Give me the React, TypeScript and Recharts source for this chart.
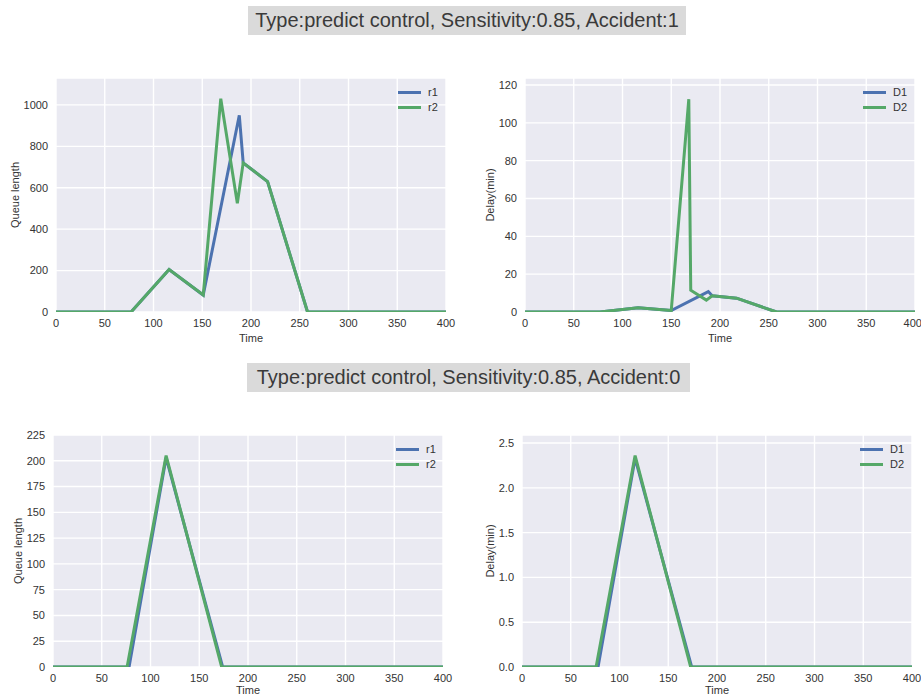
import { LineChart, Line, XAxis, YAxis, CartesianGrid, Legend, Label } from 'recharts'

const BLUE = '#4C72B0'
const GREEN = '#55A868'
const FONT = '"Liberation Sans", Arial, sans-serif'

const timeTicks = [0, 50, 100, 150, 200, 250, 300, 350, 400]

// Accident:1 — queue length
const r1TimesA1 = [0, 77, 116, 151, 188, 192, 217, 258, 400]
const r1ValuesA1 = [0, 0, 205, 82, 950, 720, 630, 0, 0]
const r2TimesA1 = [0, 77, 116, 151, 169, 186, 192, 217, 258, 400]
const r2ValuesA1 = [0, 0, 205, 82, 1030, 525, 720, 630, 0, 0]

// Accident:1 — delay
const d1TimesA1 = [0, 77, 116, 150, 188, 192, 217, 258, 400]
const d1ValuesA1 = [0, 0, 2.3, 0.8, 10.8, 8.6, 7.3, 0, 0]
const d2TimesA1 = [0, 77, 116, 150, 168, 170, 186, 192, 217, 258, 400]
const d2ValuesA1 = [0, 0, 2.3, 0.8, 112.5, 11.5, 6.3, 8.6, 7.3, 0, 0]

// Accident:0 — queue length
const r1TimesA0 = [0, 78, 116, 174, 400]
const r1ValuesA0 = [0, 0, 203, 0, 0]
const r2TimesA0 = [0, 76, 116, 173, 400]
const r2ValuesA0 = [0, 0, 205, 0, 0]

// Accident:0 — delay
const d1TimesA0 = [0, 78, 116, 174, 400]
const d1ValuesA0 = [0, 0, 2.33, 0, 0]
const d2TimesA0 = [0, 76, 116, 173, 400]
const d2ValuesA0 = [0, 0, 2.36, 0, 0]

const queueTicksA1 = [0, 200, 400, 600, 800, 1000]
const delayTicksA1 = [0, 20, 40, 60, 80, 100, 120]
const queueTicksA0 = [0, 25, 50, 75, 100, 125, 150, 175, 200, 225]
const delayTicksA0 = [0, 0.5, 1.0, 1.5, 2.0, 2.5]

const zip = (ts: number[], vs: number[]) => ts.map((t, i) => ({ t, v: vs[i] }))

type Series = { name: string; color: string; data: { t: number; v: number }[] }

type PanelProps = {
  left: number
  top: number
  width: number
  height: number
  yWidth: number
  right: number
  marginTop: number
  xHeight: number
  yDomain: [number, number]
  yTicks: number[]
  yLabel: string
  yLabelOffset: number
  timeOffset: number
  legendLeft: number
  legendTop: number
  fmt?: (v: number) => string
  series: Series[]
}

const renderLegend = (props: any) => (
  <div style={{ fontSize: 11, color: '#333', lineHeight: '15px', fontFamily: FONT }}>
    {(props.payload || []).map((p: any) => (
      <div key={p.value} style={{ display: 'flex', alignItems: 'center' }}>
        <svg width={23} height={15}>
          <line x1={0} x2={23} y1={7.5} y2={7.5} stroke={p.color} strokeWidth={3} />
        </svg>
        <span style={{ marginLeft: 7 }}>{p.value}</span>
      </div>
    ))}
  </div>
)

function Panel(p: PanelProps) {
  const tickStyle = { fontSize: 11, fill: '#333', fontFamily: FONT }
  return (
    <div style={{ position: 'absolute', left: p.left, top: p.top }}>
      <LineChart
        width={p.width}
        height={p.height}
        margin={{ top: p.marginTop, right: p.right, left: 0, bottom: 0 }}
      >
        <CartesianGrid fill="#EAEAF2" fillOpacity={1} stroke="#ffffff" strokeWidth={1.4} />
        <XAxis
          type="number"
          dataKey="t"
          domain={[0, 400]}
          ticks={timeTicks}
          allowDataOverflow
          axisLine={false}
          tickLine={false}
          tickMargin={1}
          height={p.xHeight}
          tick={tickStyle}
        >
          <Label value="Time" position="insideBottom" offset={p.timeOffset} style={tickStyle} />
        </XAxis>
        <YAxis
          type="number"
          dataKey="v"
          domain={p.yDomain}
          ticks={p.yTicks}
          allowDataOverflow
          axisLine={false}
          tickLine={false}
          width={p.yWidth}
          tick={tickStyle}
          tickFormatter={p.fmt}
        >
          <Label
            value={p.yLabel}
            angle={-90}
            position="insideLeft"
            offset={p.yLabelOffset}
            style={{ ...tickStyle, textAnchor: 'middle' }}
          />
        </YAxis>
        <Legend
          layout="vertical"
          align="center"
          verticalAlign="middle"
          content={renderLegend}
          wrapperStyle={{ left: p.legendLeft, top: p.legendTop, width: 60, height: 30 }}
        />
        {p.series.map((s) => (
          <Line
            key={s.name}
            data={s.data}
            dataKey="v"
            name={s.name}
            type="linear"
            stroke={s.color}
            strokeWidth={3}
            dot={false}
            activeDot={false}
            isAnimationActive={false}
          />
        ))}
      </LineChart>
    </div>
  )
}

const titleStyle = {
  position: 'absolute' as const,
  height: 29,
  lineHeight: '29px',
  background: '#dadada',
  color: '#3a3a3a',
  fontSize: 20,
  textAlign: 'center' as const,
  fontFamily: FONT,
}

export default function App() {
  return (
    <div
      style={{
        position: 'absolute',
        left: 0,
        top: 0,
        width: 921,
        height: 697,
        background: '#ffffff',
        overflow: 'hidden',
        fontFamily: FONT,
      }}
    >
      <div style={{ ...titleStyle, left: 248, top: 6, width: 438 }}>
        Type:predict control, Sensitivity:0.85, Accident:1
      </div>
      <div style={{ ...titleStyle, left: 247, top: 363, width: 443 }}>
        Type:predict control, Sensitivity:0.85, Accident:0
      </div>

      <Panel
        left={0}
        top={60}
        width={460}
        height={290}
        yWidth={56}
        right={14}
        marginTop={18}
        xHeight={38}
        yDomain={[0, 1130]}
        yTicks={queueTicksA1}
        yLabel="Queue length"
        yLabelOffset={15}
        timeOffset={8}
        legendLeft={398}
        legendTop={25}
        series={[
          { name: 'r1', color: BLUE, data: zip(r1TimesA1, r1ValuesA1) },
          { name: 'r2', color: GREEN, data: zip(r2TimesA1, r2ValuesA1) },
        ]}
      />
      <Panel
        left={460}
        top={60}
        width={461}
        height={290}
        yWidth={65}
        right={6}
        marginTop={18}
        xHeight={38}
        yDomain={[0, 123.7]}
        yTicks={delayTicksA1}
        yLabel="Delay(min)"
        yLabelOffset={30}
        timeOffset={8}
        legendLeft={403}
        legendTop={25}
        series={[
          { name: 'D1', color: BLUE, data: zip(d1TimesA1, d1ValuesA1) },
          { name: 'D2', color: GREEN, data: zip(d2TimesA1, d2ValuesA1) },
        ]}
      />
      <Panel
        left={0}
        top={420}
        width={460}
        height={277}
        yWidth={53}
        right={17}
        marginTop={15}
        xHeight={30}
        yDomain={[0, 225]}
        yTicks={queueTicksA0}
        yLabel="Queue length"
        yLabelOffset={18}
        timeOffset={3}
        legendLeft={396}
        legendTop={22}
        series={[
          { name: 'r1', color: BLUE, data: zip(r1TimesA0, r1ValuesA0) },
          { name: 'r2', color: GREEN, data: zip(r2TimesA0, r2ValuesA0) },
        ]}
      />
      <Panel
        left={460}
        top={420}
        width={461}
        height={277}
        yWidth={62}
        right={9}
        marginTop={15}
        xHeight={30}
        yDomain={[0, 2.59]}
        yTicks={delayTicksA0}
        yLabel="Delay(min)"
        yLabelOffset={30}
        timeOffset={3}
        legendLeft={400}
        legendTop={22}
        fmt={(v: number) => v.toFixed(1)}
        series={[
          { name: 'D1', color: BLUE, data: zip(d1TimesA0, d1ValuesA0) },
          { name: 'D2', color: GREEN, data: zip(d2TimesA0, d2ValuesA0) },
        ]}
      />
    </div>
  )
}
